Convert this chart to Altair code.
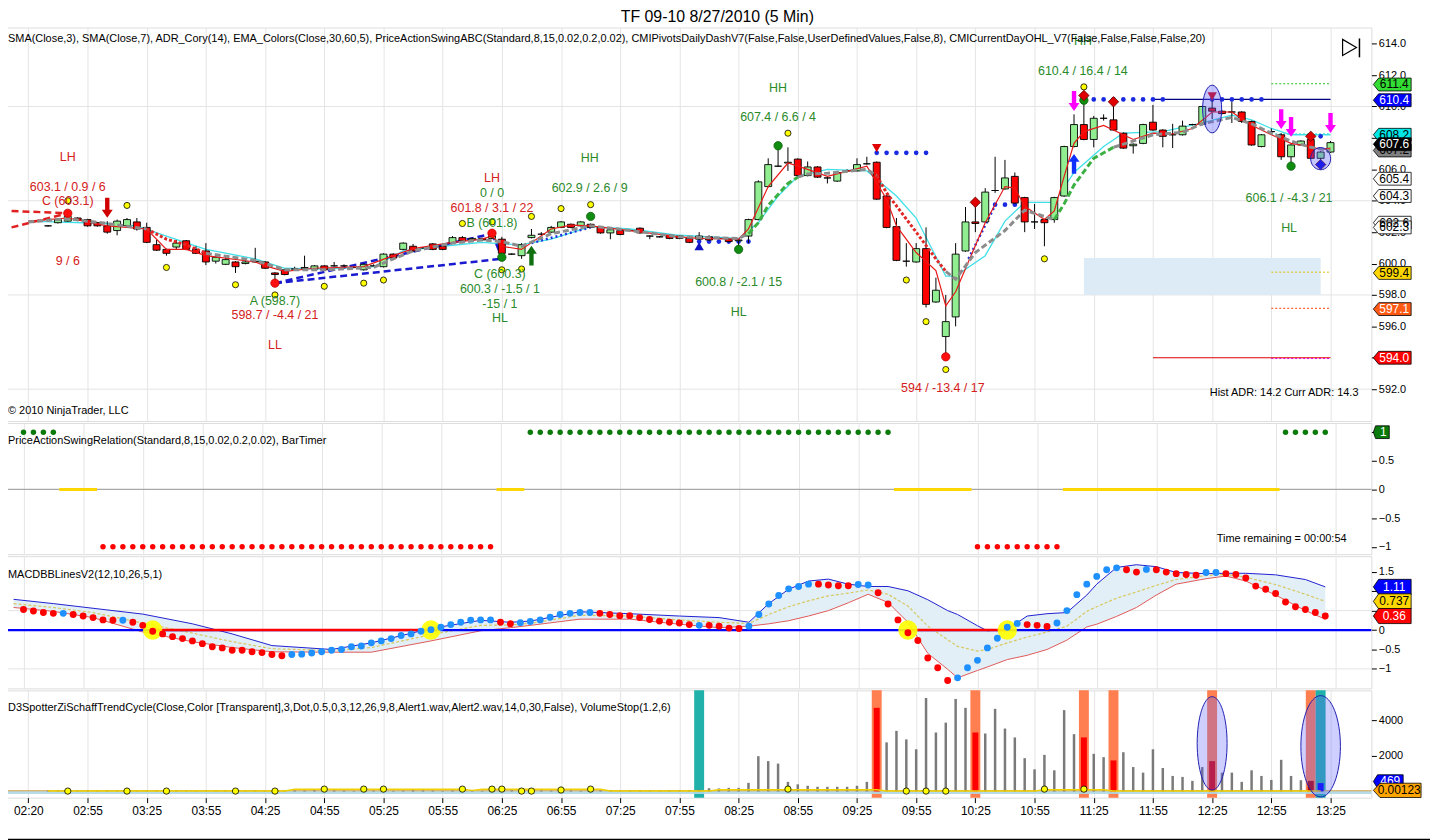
import altair as alt
import pandas as pd

FONT = "Liberation Sans"
W = 1375
HP, HS, HM, HV = 396, 132, 133, 108
XDOM = [0.14, 137.64]

# ---------------- x axis (bar index -> time label) ----------------
TIME_LABELS = ["02:20", "02:55", "03:25", "03:55", "04:25", "04:55", "05:25", "05:55",
               "06:25", "06:55", "07:25", "07:55", "08:25", "08:55", "09:25", "09:55",
               "10:25", "10:55", "11:25", "11:55", "12:25", "12:55", "13:25"]
TIME_TICK_K = [2, 8, 14, 20, 26, 32, 38, 44, 50, 56, 62, 68, 74, 80, 86, 92, 98, 104,
               110, 116, 122, 128, 134]

# ---------------- candles (first bar index = 4) ----------------
FIRST_K = 4
OPEN = [602.4, 602.6, 602.7, 602.9, 602.8, 602.6, 602.4, 602.1, 602.4, 602.65,
        602.3, 601.2, 600.9, 601.05, 601.45, 600.9, 600.8, 600.15, 599.95, 600.1,
        600.0, 600.1, 600.1, 599.4, 599.6, 599.65, 599.7, 599.65, 599.85, 599.85,
        599.85, 599.75, 599.6, 599.85, 599.8, 600.6, 600.9, 601.1, 601.0, 601.25,
        601.1, 601.3, 601.65, 601.5, 601.6, 601.6, 601.55, 600.6, 600.5, 601.65,
        601.87, 602.0, 602.3, 602.5, 602.4, 602.5, 602.3, 601.95, 602.1, 602.1,
        602.25, 601.75, 601.7, 601.8, 601.75, 601.6, 601.55, 601.7, 601.6, 601.55,
        601.45, 601.75, 602.8, 604.9, 606.2, 606.4, 606.65, 605.6, 606.15, 605.45,
        605.25, 605.9, 605.9, 606.35, 606.45, 604.3, 602.35, 600.15, 600.1, 600.95,
        597.55, 595.35, 596.6, 600.8, 602.65, 602.65, 604.65, 604.75, 605.55, 604.2,
        602.65, 602.8, 602.8, 604.3, 607.45, 608.85, 607.9, 609.25, 609.15, 608.3,
        607.5, 607.65, 609.0, 608.5, 608.2, 608.2, 608.85, 608.85, 609.9, 609.7,
        609.65, 609.65, 609.05, 607.45, 608.4, 608.2, 606.8, 607.55, 607.9, 606.7, 607.1]
HIGH = [602.45, 602.85, 603.2, 602.95, 602.85, 602.65, 602.7, 602.8, 602.9, 602.9,
        602.6, 601.5, 600.95, 601.5, 601.5, 601.1, 601.3, 600.45, 600.4, 600.15,
        600.3, 601.0, 600.15, 599.45, 599.65, 599.8, 600.5, 599.9, 599.9, 600.1,
        599.95, 599.85, 600.0, 599.95, 600.65, 600.65, 601.35, 601.25, 601.05, 601.3,
        601.15, 601.75, 601.75, 601.65, 601.65, 601.85, 601.7, 600.65, 601.3, 602.2,
        602.0, 602.4, 602.7, 602.55, 602.7, 602.55, 602.35, 602.2, 602.15, 602.15,
        602.3, 601.8, 601.75, 601.85, 601.8, 601.65, 602.0, 601.8, 601.65, 601.6,
        601.55, 602.85, 605.3, 606.7, 607.3, 607.4, 606.7, 606.5, 606.2, 605.5,
        605.85, 606.0, 606.7, 606.8, 606.5, 604.35, 602.9, 601.3, 601.3, 602.3,
        599.1, 598.0, 601.3, 603.6, 603.8, 604.8, 606.8, 606.6, 605.8, 604.25,
        603.8, 602.85, 604.25, 607.5, 609.5, 610.4, 609.4, 609.5, 610.4, 608.35,
        607.65, 608.9, 610.1, 608.55, 608.9, 609.1, 608.9, 610.05, 610.45, 609.75,
        610.3, 609.7, 609.1, 608.25, 608.6, 608.3, 607.6, 607.85, 608.0, 607.15, 607.8]
LOW = [602.35, 602.55, 602.65, 602.7, 602.35, 602.35, 601.9, 601.8, 602.3, 602.1,
       601.3, 600.8, 600.5, 600.9, 600.85, 600.6, 599.9, 600.0, 599.9, 599.4,
       599.95, 600.05, 599.65, 598.7, 599.25, 599.6, 599.65, 599.6, 599.55, 599.8,
       599.75, 599.7, 599.55, 599.8, 599.75, 600.3, 600.85, 600.75, 600.95, 600.85,
       600.85, 601.25, 601.4, 601.4, 601.45, 601.55, 600.4, 600.55, 600.3, 601.6,
       601.8, 601.95, 602.25, 602.25, 602.35, 602.25, 601.9, 601.55, 601.8, 602.05,
       601.9, 601.55, 601.65, 601.55, 601.55, 601.3, 601.5, 601.45, 601.55, 601.35,
       601.1, 601.3, 602.75, 604.85, 606.15, 605.9, 605.55, 605.55, 605.45, 605.1,
       605.2, 605.85, 605.85, 606.3, 604.05, 602.25, 600.15, 599.8, 600.05, 597.2,
       597.5, 594.0, 596.0, 600.75, 602.0, 602.6, 604.5, 604.7, 603.8, 602.0,
       602.2, 601.1, 602.6, 604.25, 607.4, 607.85, 607.4, 609.1, 608.45, 607.3,
       607.0, 607.6, 608.45, 607.4, 607.35, 608.15, 608.8, 608.8, 609.2, 609.5,
       608.95, 608.95, 607.5, 607.4, 608.2, 606.6, 606.2, 607.5, 606.65, 606.6, 607.05]
CLOSE = [602.4, 602.8, 603.0, 602.75, 602.4, 602.4, 602.0, 602.7, 602.8, 602.2,
         601.35, 600.85, 600.65, 601.3, 600.9, 600.65, 600.1, 600.4, 600.25, 599.8,
         600.1, 600.15, 599.7, 599.3, 599.3, 599.65, 599.75, 599.85, 599.6, 599.85,
         599.85, 599.75, 599.95, 599.85, 600.6, 600.35, 601.3, 600.8, 601.0, 600.9,
         600.9, 601.65, 601.45, 601.6, 601.5, 601.75, 600.65, 600.6, 601.2, 601.8,
         601.87, 602.3, 602.65, 602.3, 602.65, 602.3, 601.95, 602.15, 601.85, 602.1,
         601.95, 601.75, 601.7, 601.6, 601.6, 601.35, 601.75, 601.5, 601.6, 601.4,
         601.5, 602.8, 605.2, 606.3, 606.2, 606.45, 605.6, 606.15, 605.5, 605.45,
         605.8, 605.9, 606.3, 606.35, 604.1, 602.3, 600.2, 600.15, 600.95, 597.4,
         598.3, 596.3, 600.6, 602.65, 602.55, 604.55, 604.65, 605.45, 603.85, 602.65,
         602.65, 602.6, 604.2, 607.45, 608.85, 607.9, 609.25, 609.25, 608.5, 607.35,
         607.6, 608.85, 608.5, 608.1, 608.2, 608.75, 608.85, 610.0, 609.7, 609.55,
         609.65, 609.05, 607.55, 608.2, 608.4, 606.8, 607.55, 607.8, 606.7, 607.1, 607.7]

# ---------------- price overlays ----------------
CYAN_K = [2, 10, 13, 16, 20, 25, 28, 32, 37, 40, 44, 48, 50, 52, 55, 59, 63, 68, 74, 76, 78,
          80, 83, 87, 90, 92, 95, 96, 99, 101, 103, 106, 108, 111, 113, 117, 121, 124, 126,
          128, 130, 134]
CYAN_V = [602.7, 602.55, 602.4, 601.75, 600.9, 600.3, 599.7, 599.65, 599.8, 600.8, 601.1,
          601.35, 601.25, 601.2, 601.55, 602.35, 602.2, 601.8, 601.6, 602.6, 604.3, 605.55,
          606.0, 605.9, 604.3, 602.9, 599.2, 599.2, 600.5, 602.7, 603.9, 603.9, 605.8, 607.45,
          608.3, 608.4, 608.95, 609.45, 609.15, 608.6, 608.2, 608.2]
SMA3_K = [2, 6, 10, 14, 16, 18, 20, 25, 26, 28, 31, 36, 39, 41, 45, 48, 49, 50, 52, 55, 57,
          59, 63, 68, 70, 74, 75, 77, 79, 81, 83, 87, 89, 90, 92, 94, 95, 96, 98, 99, 101,
          102, 103, 105, 106, 107, 108, 109, 111, 113, 114, 116, 118, 120, 122, 124, 126,
          128, 130, 132, 133, 134]
SMA3_V = [602.7, 602.9, 602.4, 602.2, 600.9, 600.9, 600.5, 600.1, 599.85, 599.5, 599.7,
          599.8, 600.5, 600.95, 601.35, 601.55, 601.75, 601.1, 600.9, 602.2, 602.45, 602.4,
          602.1, 601.7, 601.6, 601.55, 602.2, 604.9, 606.4, 606.0, 605.55, 606.2, 604.1,
          602.4, 600.7, 599.55, 597.3, 598.2, 601.15, 602.6, 604.9, 604.8, 603.65, 602.8,
          603.35, 605.55, 607.65, 608.4, 608.8, 608.2, 607.9, 608.3, 608.25, 608.6, 609.65,
          609.65, 608.8, 608.2, 607.65, 607.45, 607.25, 607.35]
SMA7_K = [2, 6, 10, 14, 16, 18, 20, 25, 28, 32, 37, 39, 41, 45, 48, 50, 52, 55, 59, 63, 68,
          74, 75, 76, 77, 79, 80, 81, 83, 87, 88, 89, 92, 94, 95, 96, 98, 101, 103, 105, 106,
          107, 108, 110, 112, 113, 116, 119, 121, 124, 126, 128, 130, 132, 134]
SMA7_V = [602.65, 602.85, 602.55, 602.2, 601.55, 601.2, 600.65, 600.2, 599.6, 599.6, 599.75,
          600.3, 600.8, 601.3, 601.5, 601.4, 601.1, 601.9, 602.4, 602.1, 601.7, 601.6, 601.9,
          602.6, 603.7, 605.1, 605.5, 605.7, 605.75, 606.0, 605.6, 604.5, 602.0, 600.3, 599.5,
          599.0, 600.7, 602.1, 603.4, 603.0, 602.8, 603.8, 605.0, 606.7, 607.4, 607.6, 608.2,
          608.35, 608.9, 609.3, 608.9, 608.3, 607.8, 607.4, 607.2]
SMA7_STYLE_START = [2, 14, 20, 75, 80, 88, 95, 106, 112]
SMA7_STYLE = ["gray", "red", "gray", "green", "gray", "red", "gray", "green", "gray"]

ABC_SEG = ["AB", "AB", "AC", "AC", "BC", "BC", "R1", "R1", "R2", "R2"]
ABC_K = [27, 49, 27, 50, 49, 50, 0.3, 6, 0.3, 6]
ABC_V = [598.75, 601.9, 598.75, 600.3, 601.9, 600.4, 603.35, 603.2, 602.3, 603.2]
ABC_COL = ["blue", "blue", "blue", "blue", "blue", "blue", "red", "red", "red", "red"]

BLUE_DOT_K = [70, 71, 72, 73, 74, 75, 88, 89, 90, 91, 92, 93, 99, 100, 101, 102,
              110, 111, 112, 113, 114, 115, 116, 117, 122, 123, 124, 125, 126, 127, 133]
BLUE_DOT_V = [601.4, 601.4, 601.4, 601.4, 601.4, 601.4, 607.05, 607.05, 607.05, 607.05,
              607.05, 607.05, 603.75, 603.75, 603.75, 603.75, 610.45, 610.45, 610.45, 610.45,
              610.45, 610.45, 610.45, 610.45, 610.45, 610.45, 610.45, 610.45, 610.45, 610.45,
              608.1]
BLUE_DL_SEG = ["s1", "s1", "s2", "s2"]
BLUE_DL_K = [53, 59, 97.3, 100]
BLUE_DL_V = [601.3, 602.3, 600.3, 603.7]

YELLOW_K = [6, 12, 16, 23, 27, 32, 36, 38, 46, 49, 50, 52, 53, 56, 59, 79, 91, 93, 95, 105, 109]
YELLOW_V = [604.0, 603.7, 599.75, 598.65, 598.0, 598.55, 598.75, 598.95, 602.55, 602.65,
            599.6, 599.65, 603.0, 603.5, 603.75, 608.3, 598.95, 596.3, 593.25, 600.3, 611.25]
GREEN_DOT_K = [50, 59, 74, 78, 109, 130]
GREEN_DOT_V = [600.4, 603.0, 600.9, 607.5, 610.4, 606.2]
RED_DOT_K = [6, 27, 49, 95]
RED_DOT_V = [603.2, 598.75, 601.93, 594.06]
DIAMOND_K = [98, 109, 112, 132, 133]
DIAMOND_V = [603.9, 610.7, 610.3, 608.1, 606.3]
DIAMOND_C = ["#e00000", "#e00000", "#e00000", "#e00000", "#0000e0"]
TRI_DOWN_K = [88, 122]
TRI_DOWN_V = [607.35, 610.65]
TRI_UP_K = [70]
TRI_UP_V = [601.1]
ARROW_DOWN_K = [10, 108, 129, 130, 134]
ARROW_DOWN_V = [603.55, 610.35, 609.2, 608.7, 608.95]
ARROW_DOWN_C = ["#d00000", "#ff00ff", "#ff00ff", "#ff00ff", "#ff00ff"]
ARROW_UP_K = [53, 108]
ARROW_UP_V = [600.5, 606.35]
ARROW_UP_C = ["#107010", "#1030ff"]

ZONE = dict(k0=109, k1=133, v0=598.0, v1=600.35)
PIVOT_SOLID_V = [610.45, 594.0]
PIVOT_SOLID_C = ["#000080", "#e00000"]
PIVOT_SOLID_K = [116, 134]
PIVOT_DOT_V = [611.45, 608.25, 599.45, 597.15, 593.95]
PIVOT_DOT_C = ["#20c020", "#00d0d0", "#e0c000", "#ff4000", "#e000e0"]
PIVOT_DOT_K = [128, 134]

ANN_K = [6, 6, 6, 6, 27, 27, 27, 49, 49, 49, 49, 49.8, 49.8, 49.8, 49.8, 58.9, 58.9, 78, 78,
         74, 74, 94.7, 108.9, 108.9, 129.8, 129.8]
ANN_V = [606.8, 604.9, 604.0, 600.15, 597.6, 596.7, 594.8, 605.45, 604.5, 603.55, 602.6,
         599.3, 598.4, 597.45, 596.5, 606.7, 604.8, 611.2, 609.3, 598.8, 596.9, 592.1,
         612.25, 614.15, 604.15, 602.25]
ANN_T = ["LH", "603.1 / 0.9 / 6", "C (603.1)", "9 / 6", "A (598.7)", "598.7 / -4.4 / 21", "LL",
         "LH", "0 / 0", "601.8 / 3.1 / 22", "B (601.8)", "C (600.3)", "600.3 / -1.5 / 1",
         "-15 / 1", "HL", "HH", "602.9 / 2.6 / 9", "HH", "607.4 / 6.6 / 4",
         "600.8 / -2.1 / 15", "HL", "594 / -13.4 / 17", "610.4 / 16.4 / 14", "HH",
         "606.1 / -4.3 / 21", "HL"]
ANN_C = ["r", "r", "r", "r", "g", "r", "r", "r", "g", "r", "g", "g", "g", "g", "g", "g", "g",
         "g", "g", "g", "g", "r", "g", "g", "g", "g"]

ELL_K = [122, 133]
ELL_V = [609.84, 606.68]

PRICE_TAG_V = [611.4, 610.4, 607.2, 608.2, 607.6, 605.4, 604.3, 602.6, 602.3, 599.4, 597.1, 594.0]
PRICE_TAG_T = ["611.4", "610.4", "607.2", "608.2", "607.6", "605.4", "604.3", "602.6", "602.3",
               "599.4", "597.1", "594.0"]
PRICE_TAG_BG = ["#33dd33", "#0000ff", "#808080", "#00e5e5", "#000000", "#ffffff", "#ffffff",
                "#ffffff", "#ffffff", "#ffd700", "#ff5a14", "#ff0000"]
PRICE_TAG_FG = ["black", "white", "black", "black", "white", "black", "black", "black", "black",
                "black", "white", "white"]

# ---------------- swing relation ----------------
SWING_RUNS = [(2, 5, 1), (6, 9, 0), (10, 49, -1), (50, 52, 0), (53, 89, 1), (90, 97, 0),
              (98, 106, -1), (107, 128, 0), (129, 133, 1)]

# ---------------- MACD BB ----------------
MACD_FIRST_K = 2
MACD = [0.53, 0.49, 0.45, 0.43, 0.43, 0.40, 0.36, 0.32, 0.26, 0.25,
        0.25, 0.20, 0.12, -0.03, -0.10, -0.17, -0.22, -0.28, -0.35, -0.43,
        -0.46, -0.52, -0.52, -0.56, -0.58, -0.63, -0.66, -0.63, -0.62, -0.59,
        -0.56, -0.52, -0.50, -0.43, -0.41, -0.33, -0.28, -0.22, -0.14, -0.10,
        -0.03, 0.01, 0.07, 0.14, 0.20, 0.25, 0.26, 0.26, 0.20, 0.16,
        0.19, 0.22, 0.26, 0.33, 0.40, 0.43, 0.45, 0.45, 0.43, 0.40,
        0.37, 0.37, 0.32, 0.27, 0.23, 0.20, 0.18, 0.14, 0.12, 0.12,
        0.10, 0.05, 0.04, 0.10, 0.40, 0.67, 0.89, 1.06, 1.12, 1.18,
        1.18, 1.16, 1.14, 1.14, 1.17, 1.16, 0.96, 0.67, 0.26, -0.07,
        -0.27, -0.72, -0.97, -1.30, -1.23, -0.97, -0.78, -0.46, -0.21, 0.07,
        0.17, 0.14, 0.12, 0.09, 0.18, 0.50, 0.91, 1.18, 1.38, 1.55,
        1.60, 1.55, 1.49, 1.56, 1.55, 1.49, 1.45, 1.43, 1.41, 1.48,
        1.48, 1.45, 1.43, 1.34, 1.13, 1.05, 0.94, 0.72, 0.60, 0.53,
        0.45, 0.36]
MACD_DIR = ("rrrrbrrrrr" "brrrrrrrrr" "rrrrrrrbbb" "bbbbbbbbbb" "bbbbbbbbrr" "bbbbbbbbrr"
            "rrrrrrrrbr" "rrrbbbbbbb" "rrrrbbrrrr" "rrrrbbbbbb" "brrrbbbbbb" "brrbrrrrrb"
            "brrrrrrrrr" "rr")
BAND_K = [1, 5, 9, 14, 19, 23, 27, 33, 37, 43, 48, 51, 53, 58, 63, 68, 72, 75, 77, 79,
          81, 83, 85, 87, 89, 91, 93, 95, 96, 98, 99, 101, 103, 105, 107, 109, 110, 112, 114,
          116, 118, 121, 123, 125, 128, 131, 133]
BAND_UP = [0.79, 0.68, 0.56, 0.41, 0.16, -0.10, -0.40, -0.50, -0.33, 0.04, 0.25, 0.20, 0.23,
           0.47, 0.42, 0.36, 0.32, 0.20, 0.68, 1.05, 1.26, 1.31, 1.18, 1.12, 1.12, 1.01, 0.78,
           0.50, 0.40, 0.11, -0.02, 0.02, 0.36, 0.42, 0.45, 0.90, 1.18, 1.61, 1.68, 1.63,
           1.48, 1.45, 1.46, 1.46, 1.42, 1.30, 1.11]
BAND_MID = [0.68, 0.58, 0.45, 0.18, -0.08, -0.30, -0.48, -0.53, -0.45, -0.12, 0.12, 0.13,
            0.17, 0.38, 0.36, 0.26, 0.20, 0.17, 0.40, 0.60, 0.75, 0.88, 0.95, 1.03, 0.92, 0.62,
            0.10, -0.25, -0.42, -0.54, -0.50, -0.33, -0.18, -0.05, 0.10, 0.48, 0.60, 0.82,
            0.98, 1.15, 1.30, 1.40, 1.43, 1.36, 1.17, 0.92, 0.737]
BAND_LO = [0.58, 0.48, 0.32, -0.05, -0.30, -0.45, -0.56, -0.57, -0.57, -0.28, -0.02, 0.06,
           0.12, 0.28, 0.28, 0.15, 0.06, 0.10, 0.16, 0.24, 0.36, 0.50, 0.70, 0.92, 0.71, 0.20,
           -0.60, -1.01, -1.23, -1.04, -0.95, -0.76, -0.65, -0.50, -0.26, 0.08, 0.15, 0.35,
           0.58, 0.90, 1.18, 1.32, 1.39, 1.26, 0.90, 0.50, 0.28]
MACD_RED_ZERO = [(15, 43), (91, 101)]
MACD_CROSS_K = [15, 43, 91, 101]

# ---------------- volume / Schaff ----------------
VOL_EARLY = [40, 60, 30, 50, 70, 40, 60, 50, 30, 40,
             60, 50, 40, 70, 50, 30, 60, 40, 50, 40,
             30, 60, 50, 40, 30, 50, 40, 60, 30, 50,
             40, 30, 60, 40, 50, 30, 40, 60, 50, 40,
             30, 50, 40, 60, 30, 40, 50, 60, 40, 30,
             50, 40, 60, 50, 30, 40, 50, 60, 40, 50,
             60, 50, 40, 60, 80, 70, 100, 180]
VOL_LATE = [167, 200, 200, 483, 1983, 1706, 1567, 539, 400, 317,
            261, 261, 261, 261, 317, 539, 4706, 2761, 3409, 2928,
            2372, 5261, 3317, 3872, 5206, 4706, 3317, 3261, 4650, 3539,
            3039, 1872, 1244, 2059, 1189, 4576, 3224, 3039, 2117, 1930,
            1744, 2206, 1372, 1058, 2372, 1317, 872, 817, 594, 1372,
            1706, 1058, 1058, 539, 1189, 872, 650, 1780, 872, 632,
            594, 469]
VOL_HI_K = [88, 98, 109, 112, 122, 132, 133]
VOL_HI_C = ["#ff0000", "#ff0000", "#ff0000", "#ff0000", "#dd0000", "#b00000", "#0000ff"]
ORANGE_K = [88, 98, 109, 112, 122, 132]
TEAL_K = [70, 133]
STC_K = [4, 28, 29, 46, 47, 48, 60, 61, 71, 72, 88, 89, 104, 105, 111, 112, 133]
STC_V = [20, 20, 120, 120, 60, 120, 120, 20, 20, 100, 100, 20, 20, 100, 100, 20, 20]
STC_DOT_K = [6, 12, 16, 23, 27, 32, 36, 38, 46, 49, 50, 52, 53, 56, 59, 79, 91, 93, 95, 105, 109]
STC_DOT_V = [20, 20, 20, 20, 20, 130, 130, 130, 130, 130, 130, 20, 20, 80, 130, 130, 20, 20,
             20, 130, 130]
VELL_K = [122, 133]
VELL_V = [2706, 2539]

# =====================================================================
XS = alt.Scale(domain=XDOM, nice=False, zero=False)
XA_HIDDEN = alt.Axis(values=TIME_TICK_K, labels=False, ticks=False, domain=False, grid=True,
                     gridColor="#e4e4e4", title=None)
lab_arr = "[" + ",".join("'%s'" % t for t in TIME_LABELS) + "]"
XA_BOTTOM = alt.Axis(values=TIME_TICK_K, grid=True, gridColor="#e4e4e4", title=None,
                     domain=False, ticks=True, tickSize=5, tickColor="black",
                     labelExpr=lab_arr + "[round((datum.value-2)/6)]",
                     labelFontSize=12, labelPadding=3, labelColor="black", labelFont=FONT)


def X(field="k", axis=XA_HIDDEN):
    return alt.X(field + ":Q", scale=XS, axis=axis)


def tag_layers(vals, texts, bgs, fgs, yfield_scale, yaxis, width, height_frac=0.34):
    df = pd.DataFrame({"v": vals, "t": texts, "bg": bgs, "fg": fgs})
    path = "M -1,0 L -0.72,-%.2f L 1,-%.2f L 1,%.2f L -0.72,%.2f Z" % (
        height_frac, height_frac, height_frac, height_frac)
    cx = W + 2 + width / 2.0
    yy = alt.Y("v:Q", scale=yfield_scale, axis=yaxis)
    shp = alt.Chart(df).mark_point(shape=path, filled=True, size=width * width, opacity=1,
                                   stroke="black", strokeWidth=0.8, clip=False).encode(
        x=alt.value(cx), y=yy, fill=alt.Fill("bg:N", scale=None))
    txt = alt.Chart(df).mark_text(fontSize=12, font=FONT, dx=2, clip=False).encode(
        x=alt.value(cx), y=yy, text="t:N", color=alt.Color("fg:N", scale=None))
    return [shp, txt]


# =========================== PRICE PANEL ===========================
YSP = alt.Scale(domain=[589.97, 615.03], nice=False, zero=False)
YAP = alt.Axis(orient="right", values=[592, 594, 596, 598, 600, 602, 604, 606, 608, 610, 612, 614],
               format=".1f", grid=False, tickSize=5, tickColor="black", labelFontSize=11,
               labelColor="black", labelPadding=2, domain=False, title=None)


def YP(field):
    return alt.Y(field + ":Q", scale=YSP, axis=YAP)


n = len(OPEN)
candles = pd.DataFrame({"k": [FIRST_K + i for i in range(n)], "O": OPEN, "H": HIGH,
                        "L": LOW, "C": CLOSE})
candles["fillc"] = ["#ff0000" if c < o else "#90ee90" for o, c in zip(OPEN, CLOSE)]

layers = []
layers.append(alt.Chart(pd.DataFrame({"v": [592, 598, 604, 610]})).mark_rule(
    color="#e4e4e4", strokeWidth=1).encode(y=YP("v")))
zone_df = pd.DataFrame([ZONE])
layers.append(alt.Chart(zone_df).mark_rect(color="#dcebf5").encode(
    x=X("k0"), x2="k1:Q", y=YP("v0"), y2="v1:Q"))
piv_s = pd.DataFrame({"v": PIVOT_SOLID_V, "c": PIVOT_SOLID_C,
                      "k0": [PIVOT_SOLID_K[0]] * 2, "k1": [PIVOT_SOLID_K[1]] * 2})
layers.append(alt.Chart(piv_s).mark_rule(strokeWidth=1.2).encode(
    x=X("k0"), x2="k1:Q", y=YP("v"), color=alt.Color("c:N", scale=None)))
piv_d = pd.DataFrame({"v": PIVOT_DOT_V, "c": PIVOT_DOT_C,
                      "k0": [PIVOT_DOT_K[0]] * 5, "k1": [PIVOT_DOT_K[1]] * 5})
layers.append(alt.Chart(piv_d).mark_rule(strokeWidth=1, strokeDash=[2, 2]).encode(
    x=X("k0"), x2="k1:Q", y=YP("v"), color=alt.Color("c:N", scale=None)))
layers.append(alt.Chart(pd.DataFrame({"k": CYAN_K, "v": CYAN_V})).mark_line(
    color="#40e0e8", strokeWidth=1.3).encode(x=X(), y=YP("v")))
abc = pd.DataFrame({"seg": ABC_SEG, "k": ABC_K, "v": ABC_V, "c": ABC_COL})
layers.append(alt.Chart(abc).transform_filter("datum.c == 'blue'").mark_line(
    color="#1a1ad0", strokeWidth=2.5, strokeDash=[7, 4]).encode(x=X(), y=YP("v"), detail="seg:N"))
layers.append(alt.Chart(abc).transform_filter("datum.c == 'red'").mark_line(
    color="#e02020", strokeWidth=2.5, strokeDash=[7, 4]).encode(x=X(), y=YP("v"), detail="seg:N"))
layers.append(alt.Chart(pd.DataFrame({"seg": BLUE_DL_SEG, "k": BLUE_DL_K, "v": BLUE_DL_V}))
              .mark_line(color="#2030e0", strokeWidth=2.5, strokeDash=[2, 3])
              .encode(x=X(), y=YP("v"), detail="seg:N"))
layers.append(alt.Chart(pd.DataFrame({"k": BLUE_DOT_K, "v": BLUE_DOT_V})).mark_circle(
    color="#1a2ae0", size=22, opacity=1).encode(x=X(), y=YP("v")))
layers.append(alt.Chart(candles).mark_rule(color="black", strokeWidth=1).encode(
    x=X(), y=YP("L"), y2="H:Q"))
layers.append(alt.Chart(candles).mark_bar(size=7, stroke="black", strokeWidth=0.9).encode(
    x=X(), y=YP("O"), y2="C:Q", fill=alt.Fill("fillc:N", scale=None)))
layers.append(alt.Chart(pd.DataFrame({"k": SMA3_K, "v": SMA3_V})).mark_line(
    color="#e81818", strokeWidth=1.2).encode(x=X(), y=YP("v")))

rows = []
for i, s in enumerate(SMA7_STYLE_START):
    e = SMA7_STYLE_START[i + 1] if i + 1 < len(SMA7_STYLE_START) else 10 ** 6
    for kk, vv in zip(SMA7_K, SMA7_V):
        if s <= kk <= e:
            rows.append({"seg": i, "st": SMA7_STYLE[i], "k": kk, "v": vv})
sma7 = pd.DataFrame(rows)
for st, col, dash, wd in [("gray", "#8c8c8c", [6, 3], 3), ("red", "#e02828", [3, 2], 3),
                          ("green", "#3cb043", [6, 3], 3)]:
    layers.append(alt.Chart(sma7).transform_filter("datum.st == '%s'" % st).mark_line(
        color=col, strokeWidth=wd, strokeDash=dash).encode(x=X(), y=YP("v"), detail="seg:N"))

layers.append(alt.Chart(pd.DataFrame({"k": YELLOW_K, "v": YELLOW_V})).mark_point(
    shape="circle", filled=True, fill="#ffff00", stroke="black", strokeWidth=0.8, size=38,
    opacity=1).encode(x=X(), y=YP("v")))
layers.append(alt.Chart(pd.DataFrame({"k": GREEN_DOT_K, "v": GREEN_DOT_V})).mark_point(
    shape="circle", filled=True, fill="#108c10", stroke="#0a600a", strokeWidth=0.8, size=70,
    opacity=1).encode(x=X(), y=YP("v")))
layers.append(alt.Chart(pd.DataFrame({"k": RED_DOT_K, "v": RED_DOT_V})).mark_point(
    shape="circle", filled=True, fill="#ff1010", stroke="#c00000", strokeWidth=0.8, size=70,
    opacity=1).encode(x=X(), y=YP("v")))
layers.append(alt.Chart(pd.DataFrame({"k": DIAMOND_K, "v": DIAMOND_V, "c": DIAMOND_C}))
              .mark_point(shape="diamond", filled=True, size=110, stroke="#600000",
                          strokeWidth=0.8, opacity=1)
              .encode(x=X(), y=YP("v"), fill=alt.Fill("c:N", scale=None)))
layers.append(alt.Chart(pd.DataFrame({"k": TRI_DOWN_K, "v": TRI_DOWN_V})).mark_point(
    shape="triangle-down", filled=True, fill="#e00000", size=90, opacity=1).encode(
    x=X(), y=YP("v")))
layers.append(alt.Chart(pd.DataFrame({"k": TRI_UP_K, "v": TRI_UP_V})).mark_point(
    shape="triangle-up", filled=True, fill="#1010c0", size=90, opacity=1).encode(
    x=X(), y=YP("v")))
ARROW_DOWN = "M -0.22,-1 L 0.22,-1 L 0.22,0.2 L 0.55,0.2 L 0,1 L -0.55,0.2 L -0.22,0.2 Z"
ARROW_UP = "M -0.22,1 L 0.22,1 L 0.22,-0.2 L 0.55,-0.2 L 0,-1 L -0.55,-0.2 L -0.22,-0.2 Z"
layers.append(alt.Chart(pd.DataFrame({"k": ARROW_DOWN_K, "v": ARROW_DOWN_V, "c": ARROW_DOWN_C}))
              .mark_point(shape=ARROW_DOWN, filled=True, size=400, opacity=1)
              .encode(x=X(), y=YP("v"), fill=alt.Fill("c:N", scale=None)))
layers.append(alt.Chart(pd.DataFrame({"k": ARROW_UP_K, "v": ARROW_UP_V, "c": ARROW_UP_C}))
              .mark_point(shape=ARROW_UP, filled=True, size=400, opacity=1)
              .encode(x=X(), y=YP("v"), fill=alt.Fill("c:N", scale=None)))
ELL_TALL = "M 0,-1 A 0.4,1 0 1,1 0,1 A 0.4,1 0 1,1 0,-1 Z"
ELL_ROUND = "M 0,-1 A 0.9,1 0 1,1 0,1 A 0.9,1 0 1,1 0,-1 Z"
layers.append(alt.Chart(pd.DataFrame({"k": ELL_K[:1], "v": ELL_V[:1]})).mark_point(
    shape=ELL_TALL, filled=True, fill="#5a5aff", fillOpacity=0.35, stroke="#2020b0",
    strokeWidth=1, strokeOpacity=1, size=2304, opacity=1).encode(x=X(), y=YP("v")))
layers.append(alt.Chart(pd.DataFrame({"k": ELL_K[1:], "v": ELL_V[1:]})).mark_point(
    shape=ELL_ROUND, filled=True, fill="#5a5aff", fillOpacity=0.35, stroke="#2020b0",
    strokeWidth=1, strokeOpacity=1, size=500, opacity=1).encode(x=X(), y=YP("v")))
ann = pd.DataFrame({"k": ANN_K, "v": ANN_V, "t": ANN_T,
                    "c": ["#d42020" if c == "r" else "#2a8a2a" for c in ANN_C]})
layers.append(alt.Chart(ann).mark_text(fontSize=12.5, font=FONT).encode(
    x=X(), y=YP("v"), text="t:N", color=alt.Color("c:N", scale=None)))
layers.append(alt.Chart(pd.DataFrame({"k": [94.8], "v": [589.6], "t": ["LL"]})).mark_text(
    fontSize=12.5, font=FONT, color="#d42020", clip=True).encode(x=X(), y=YP("v"), text="t:N"))

static_p = pd.DataFrame({"t": ["SMA(Close,3),  SMA(Close,7),  ADR_Cory(14),  EMA_Colors(Close,30,60,5),  "
                               "PriceActionSwingABC(Standard,8,15,0.02,0.2,0.02),  "
                               "CMIPivotsDailyDashV7(False,False,UserDefinedValues,False,8),  "
                               "CMICurrentDayOHL_V7(False,False,False,False,20)"]})
layers.append(alt.Chart(static_p).mark_text(align="left", baseline="middle", fontSize=11,
                                            font=FONT, color="black").encode(
    x=alt.value(3), y=alt.value(12), text="t:N"))
layers.append(alt.Chart(pd.DataFrame({"t": ["© 2010 NinjaTrader, LLC"]})).mark_text(
    align="left", baseline="middle", fontSize=11, font=FONT, color="black").encode(
    x=alt.value(3), y=alt.value(HP - 10), text="t:N"))
layers.append(alt.Chart(pd.DataFrame({"t": ["Hist ADR: 14.2 Curr ADR: 14.3"]})).mark_text(
    align="right", baseline="middle", fontSize=11, font=FONT, color="black").encode(
    x=alt.value(W - 13), y=alt.value(HP - 28), text="t:N"))
layers.append(alt.Chart(pd.DataFrame({"a": [1]})).mark_point(
    shape="triangle-right", filled=False, stroke="black", strokeWidth=1.2, size=260,
    opacity=1).encode(x=alt.value(W - 22), y=alt.value(20)))
layers.append(alt.Chart(pd.DataFrame({"a": [1]})).mark_rule(
    color="black", strokeWidth=1.5).encode(x=alt.value(W - 12), y=alt.value(11), y2=alt.value(30)))
layers += tag_layers(PRICE_TAG_V, PRICE_TAG_T, PRICE_TAG_BG, PRICE_TAG_FG, YSP, YAP, 38)

price = alt.layer(*layers).properties(width=W, height=HP)

# =========================== SWING PANEL ===========================
YSS = alt.Scale(domain=[-1.13, 1.16], nice=False, zero=False)
YAS = alt.Axis(orient="right", values=[-1, -0.5, 0, 0.5, 1], format="~g", grid=False,
               tickSize=5, tickColor="black", labelFontSize=11, labelColor="black",
               labelPadding=2, domain=False, title=None)


def YS(field):
    return alt.Y(field + ":Q", scale=YSS, axis=YAS)


dots = []
segs = []
for a, b, val in SWING_RUNS:
    if val == 0:
        segs.append({"k0": a - 0.4, "k1": b + 0.4, "v": 0})
    else:
        for kk in range(a, b + 1):
            dots.append({"k": kk, "v": val, "c": "#0a7a0a" if val > 0 else "#ff0000"})
sl = []
sl.append(alt.Chart(pd.DataFrame({"v": [0]})).mark_rule(color="#a8a8a8", strokeWidth=1.2)
          .encode(y=YS("v")))
sl.append(alt.Chart(pd.DataFrame(segs)).mark_rule(color="#ffd700", strokeWidth=3).encode(
    x=X("k0"), x2="k1:Q", y=YS("v")))
sl.append(alt.Chart(pd.DataFrame(dots)).mark_circle(size=30, opacity=1).encode(
    x=X(), y=YS("v"), color=alt.Color("c:N", scale=None)))
sl.append(alt.Chart(pd.DataFrame({"t": ["PriceActionSwingRelation(Standard,8,15,0.02,0.2,0.02), BarTimer"]}))
          .mark_text(align="left", baseline="middle", fontSize=11, font=FONT, color="black")
          .encode(x=alt.value(3), y=alt.value(18), text="t:N"))
sl.append(alt.Chart(pd.DataFrame({"t": ["Time remaining = 00:00:54"]})).mark_text(
    align="right", baseline="middle", fontSize=11, font=FONT, color="black").encode(
    x=alt.value(W - 25), y=alt.value(117), text="t:N"))
sl += tag_layers([1], ["1"], ["#0a7a0a"], ["white"], YSS, YAS, 16, height_frac=0.8)
swing = alt.layer(*sl).properties(width=W, height=HS)

# =========================== MACD PANEL ===========================
YSM = alt.Scale(domain=[-1.5, 1.9], nice=False, zero=False)
YAM = alt.Axis(orient="right", values=[-1, -0.5, 0, 0.5, 1, 1.5], format="~g", grid=False,
               tickSize=5, tickColor="black", labelFontSize=11, labelColor="black",
               labelPadding=2, domain=False, title=None)


def YM(field):
    return alt.Y(field + ":Q", scale=YSM, axis=YAM)


band = pd.DataFrame({"k": BAND_K, "up": BAND_UP, "mid": BAND_MID, "lo": BAND_LO})
macd = pd.DataFrame({"k": [MACD_FIRST_K + i for i in range(len(MACD))], "v": MACD,
                     "c": ["#1e90ff" if d == "b" else "#ff0000" for d in MACD_DIR]})
ml = []
ml.append(alt.Chart(pd.DataFrame({"v": [-1, 0.5]})).mark_rule(color="#e4e4e4").encode(y=YM("v")))
ml.append(alt.Chart(band).mark_area(color="#e2eff6", opacity=1).encode(
    x=X(), y=YM("lo"), y2="up:Q"))
ml.append(alt.Chart(band).mark_line(color="#2020d0", strokeWidth=1).encode(x=X(), y=YM("up")))
ml.append(alt.Chart(band).mark_line(color="#e05a5a", strokeWidth=1).encode(x=X(), y=YM("lo")))
ml.append(alt.Chart(band).mark_line(color="#d8c860", strokeWidth=1.2, strokeDash=[3, 2]).encode(
    x=X(), y=YM("mid")))
ml.append(alt.Chart(pd.DataFrame({"v": [0]})).mark_rule(color="#0000ff", strokeWidth=2.2)
          .encode(y=YM("v")))
ml.append(alt.Chart(pd.DataFrame({"k0": [a for a, b in MACD_RED_ZERO],
                                  "k1": [b for a, b in MACD_RED_ZERO], "v": [0, 0]}))
          .mark_rule(color="#ff0000", strokeWidth=2.5).encode(x=X("k0"), x2="k1:Q", y=YM("v")))
ml.append(alt.Chart(pd.DataFrame({"k": MACD_CROSS_K, "v": [0, 0, 0, 0]})).mark_circle(
    color="#ffff00", size=380, opacity=0.9).encode(x=X(), y=YM("v")))
ml.append(alt.Chart(macd).mark_circle(size=48, opacity=1).encode(
    x=X(), y=YM("v"), color=alt.Color("c:N", scale=None)))
ml.append(alt.Chart(pd.DataFrame({"t": ["MACDBBLinesV2(12,10,26,5,1)"]})).mark_text(
    align="left", baseline="middle", fontSize=11, font=FONT, color="black").encode(
    x=alt.value(3), y=alt.value(19), text="t:N"))
ml += tag_layers([1.11, 0.737, 0.36], ["1.11", "0.737", "0.36"],
                 ["#0000ff", "#ffd700", "#ff0000"], ["white", "black", "white"], YSM, YAM,
                 38, height_frac=0.4)
macdp = alt.layer(*ml).properties(width=W, height=HM)

# =========================== VOLUME PANEL ===========================
YSV = alt.Scale(domain=[-350, 5690], nice=False, zero=False)
YAV = alt.Axis(orient="right", values=[2000, 4000], format="d", grid=False, tickSize=5,
               tickColor="black", labelFontSize=11, labelColor="black", labelPadding=2,
               domain=False, title=None)


def YV(field):
    return alt.Y(field + ":Q", scale=YSV, axis=YAV)


def XB(field="k"):
    return X(field, axis=XA_BOTTOM)


vol_all = VOL_EARLY + VOL_LATE
vol = pd.DataFrame({"k": [FIRST_K + i for i in range(len(vol_all))], "v": vol_all})
hi = dict(zip(VOL_HI_K, VOL_HI_C))
vol["hi"] = [k in hi for k in vol["k"]]
vol["c"] = [hi.get(k, "#7a7a7a") for k in vol["k"]]
bands_df = pd.DataFrame({"k": ORANGE_K + TEAL_K,
                         "c": ["#ff7f50"] * len(ORANGE_K) + ["#20b2aa"] * len(TEAL_K)})
vl = []
vl.append(alt.Chart(bands_df).mark_bar(size=10, opacity=1).encode(
    x=XB(), y=alt.value(0), y2=alt.value(HV), color=alt.Color("c:N", scale=None)))
vl.append(alt.Chart(pd.DataFrame({"v0": [-140], "v1": [40]})).mark_rect(
    color="#add8e6", opacity=0.9).encode(x=alt.value(0), x2=alt.value(W), y=YV("v0"), y2="v1:Q"))
vl.append(alt.Chart(pd.DataFrame({"v": [40]})).mark_rule(color="#d8a040", strokeWidth=1.2)
          .encode(y=YV("v")))
vl.append(alt.Chart(vol).transform_filter("!datum.hi").mark_bar(size=2.5, opacity=1).encode(
    x=XB(), y=YV("v"), color=alt.Color("c:N", scale=None)))
vl.append(alt.Chart(vol).transform_filter("datum.hi").mark_bar(size=6, opacity=1).encode(
    x=XB(), y=YV("v"), color=alt.Color("c:N", scale=None)))
vl.append(alt.Chart(pd.DataFrame({"k": STC_K, "v": STC_V})).mark_line(
    color="#f0d000", strokeWidth=1.5).encode(x=XB(), y=YV("v")))
vl.append(alt.Chart(pd.DataFrame({"k": STC_DOT_K, "v": STC_DOT_V})).mark_point(
    shape="circle", filled=True, fill="#ffff00", stroke="black", strokeWidth=0.8, size=40,
    opacity=1).encode(x=XB(), y=YV("v")))
VELL_A = "M 0,-1 A 0.32,1 0 1,1 0,1 A 0.32,1 0 1,1 0,-1 Z"
VELL_B = "M 0,-1 A 0.39,1 0 1,1 0,1 A 0.39,1 0 1,1 0,-1 Z"
vl.append(alt.Chart(pd.DataFrame({"k": VELL_K[:1], "v": VELL_V[:1]})).mark_point(
    shape=VELL_A, filled=True, fill="#6060ff", fillOpacity=0.3, stroke="#2020b0", strokeWidth=1,
    strokeOpacity=1, size=8836, opacity=1).encode(x=XB(), y=YV("v")))
vl.append(alt.Chart(pd.DataFrame({"k": VELL_K[1:], "v": VELL_V[1:]})).mark_point(
    shape=VELL_B, filled=True, fill="#6060ff", fillOpacity=0.3, stroke="#2020b0", strokeWidth=1,
    strokeOpacity=1, size=10404, opacity=1).encode(x=XB(), y=YV("v")))
vl.append(alt.Chart(pd.DataFrame({"t": ["D3SpotterZiSchaffTrendCycle(Close,Color [Transparent],3,Dot,0.5,0,3,12,26,9,8,"
                                        "Alert1.wav,Alert2.wav,14,0,30,False), VolumeStop(1.2,6)"]}))
          .mark_text(align="left", baseline="middle", fontSize=11, font=FONT, color="black")
          .encode(x=alt.value(3), y=alt.value(18), text="t:N"))
vl += tag_layers([560], ["469"], ["#0000ff"], ["white"], YSV, YAV, 30, height_frac=0.45)
vl += tag_layers([60], ["0.00123"], ["#ffa500"], ["black"], YSV, YAV, 48, height_frac=0.3)
vl.append(alt.Chart(pd.DataFrame({"a": [1]})).mark_rule(color="black", strokeWidth=1.5).encode(
    x=alt.value(0), x2=alt.value(W + 59), y=alt.value(HV + 42)))
volp = alt.layer(*vl).properties(width=W, height=HV)

chart = alt.vconcat(price, swing, macdp, volp, spacing=0).properties(
    title=alt.TitleParams("TF 09-10  8/27/2010 (5 Min)", fontSize=16, font=FONT,
                          fontWeight="normal", color="black", anchor="middle", offset=2),
    padding={"left": -5, "top": -2, "right": 0, "bottom": 0},
).configure_view(stroke="black", strokeWidth=1).configure_axis(
    labelFont=FONT).configure(background="white")

chart.save("out.html", embed_options={"renderer": "svg", "actions": False})
